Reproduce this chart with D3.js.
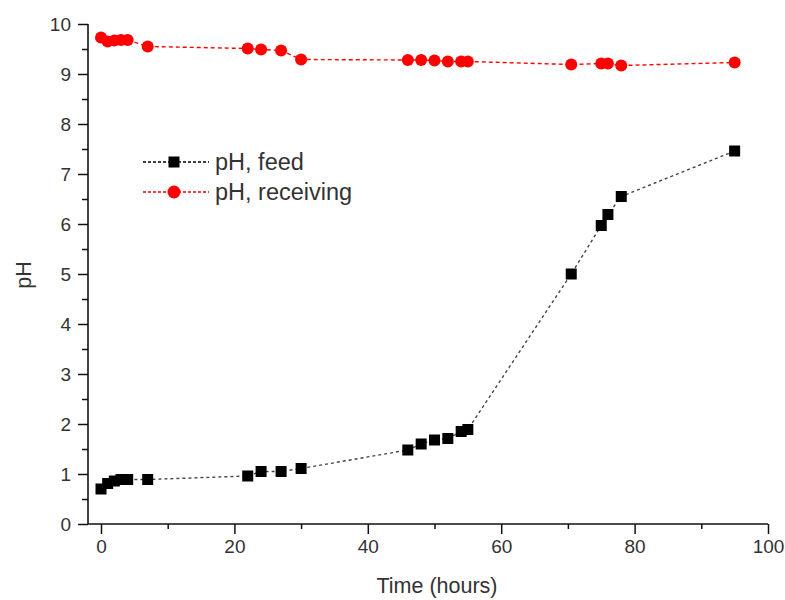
<!DOCTYPE html>
<html><head><meta charset="utf-8">
<script src="https://cdn.jsdelivr.net/npm/d3@7"></script>
<style>body{margin:0;background:#fff}svg{display:block}text{font-family:"Liberation Sans",Arial,sans-serif}</style>
</head><body><svg id="c" width="785" height="600"></svg>
<script>
const feedTime = [0, 1, 2, 3, 4, 7, 22, 24, 27, 30, 46, 48, 50, 52, 54, 55, 70.5, 75, 76, 78, 95];
const feedPH   = [0.70, 0.81, 0.86, 0.89, 0.89, 0.89, 0.96, 1.05, 1.05, 1.11, 1.48, 1.60, 1.68, 1.71, 1.85, 1.89, 5.00, 5.97, 6.19, 6.55, 7.46];
const recvTime = [0, 1, 2, 3, 4, 7, 22, 24, 27, 30, 46, 48, 50, 52, 54, 55, 70.5, 75, 76, 78, 95];
const recvPH   = [9.73, 9.65, 9.67, 9.68, 9.68, 9.55, 9.51, 9.49, 9.47, 9.29, 9.28, 9.28, 9.27, 9.25, 9.25, 9.25, 9.19, 9.21, 9.21, 9.17, 9.23];
const xTicks = [0, 20, 40, 60, 80, 100];
const yTicks = [0, 1, 2, 3, 4, 5, 6, 7, 8, 9, 10];
const seriesNames = ["pH, feed", "pH, receiving"];

const svg = d3.select("#c");
const x = d3.scaleLinear().domain([0, 100]).range([101, 768]);
const y = d3.scaleLinear().domain([0, 10]).range([524, 24]);
const xLeft = 88;

// axes
const xAxis = d3.axisBottom(x).tickValues(xTicks).tickSize(10).tickPadding(6).tickFormat(d3.format("d"));
const xMinor = d3.axisBottom(x).tickValues(d3.range(10, 100, 20)).tickSize(5).tickFormat("");
const gx = svg.append("g").attr("transform", "translate(0,524)");
gx.call(xAxis);
gx.append("g").call(xMinor);
gx.selectAll(".domain").remove();
gx.append("line").attr("x1", xLeft).attr("x2", x(100)).attr("y1", 0).attr("y2", 0).attr("stroke", "#111").attr("stroke-width", 1.6);
gx.selectAll(".tick line").attr("stroke", "#111").attr("stroke-width", 1.5);
gx.selectAll(".tick text").attr("font-size", 19).attr("fill", "#333");

const yAxis = d3.axisLeft(y).tickValues(yTicks).tickSize(10).tickPadding(7).tickFormat(d3.format("d"));
const yMinor = d3.axisLeft(y).tickValues(d3.range(0.5, 10, 1)).tickSize(6).tickFormat("");
const gy = svg.append("g").attr("transform", `translate(${xLeft},0)`);
gy.call(yAxis);
gy.append("g").call(yMinor);
gy.selectAll(".domain").remove();
gy.append("line").attr("x1", 0).attr("x2", 0).attr("y1", y(10)).attr("y2", 524).attr("stroke", "#111").attr("stroke-width", 1.6);
gy.selectAll(".tick line").attr("stroke", "#111").attr("stroke-width", 1.5);
gy.selectAll(".tick text").attr("font-size", 19).attr("fill", "#333");

// axis titles
svg.append("text").attr("x", 437).attr("y", 593).attr("text-anchor", "middle").attr("font-size", 21.5).attr("fill", "#333").text("Time (hours)");
svg.append("text").attr("transform", "translate(31,275) rotate(-90)").attr("text-anchor", "middle").attr("font-size", 21.5).attr("fill", "#333").text("pH");

const feed = feedTime.map((t, i) => ({t, v: feedPH[i]}));
const recv = recvTime.map((t, i) => ({t, v: recvPH[i]}));
const line = d3.line().x(d => x(d.t)).y(d => y(d.v));

svg.append("path").datum(feed).attr("d", line).attr("fill", "none").attr("stroke", "#444").attr("stroke-width", 1.4).attr("stroke-dasharray", "3,3");
svg.append("path").datum(recv).attr("d", line).attr("fill", "none").attr("stroke", "#f00").attr("stroke-width", 1.4).attr("stroke-dasharray", "4,3");

const sq = 11;
svg.append("g").selectAll("rect").data(feed).join("rect")
  .attr("x", d => x(d.t) - sq/2).attr("y", d => y(d.v) - sq/2).attr("width", sq).attr("height", sq).attr("fill", "#000");
svg.append("g").selectAll("circle").data(recv).join("circle")
  .attr("cx", d => x(d.t)).attr("cy", d => y(d.v)).attr("r", 6).attr("fill", "#f00");

// legend
const lg = svg.append("g");
const legendItems = [
  {name: seriesNames[0], color: "#000", ly: 162, shape: "rect"},
  {name: seriesNames[1], color: "#f00", ly: 192, shape: "circle"}
];
legendItems.forEach(it => {
  lg.append("line").attr("x1", 143).attr("x2", 209).attr("y1", it.ly).attr("y2", it.ly)
    .attr("stroke", it.color).attr("stroke-width", 1.3).attr("stroke-dasharray", "3,2");
  if (it.shape === "rect") lg.append("rect").attr("x", 174 - sq/2).attr("y", it.ly - sq/2).attr("width", sq).attr("height", sq).attr("fill", it.color);
  else lg.append("circle").attr("cx", 174).attr("cy", it.ly).attr("r", 6.5).attr("fill", it.color);
  lg.append("text").attr("x", 215).attr("y", it.ly + 8).attr("font-size", 23.5).attr("fill", "#333").text(it.name);
});
</script></body></html>
